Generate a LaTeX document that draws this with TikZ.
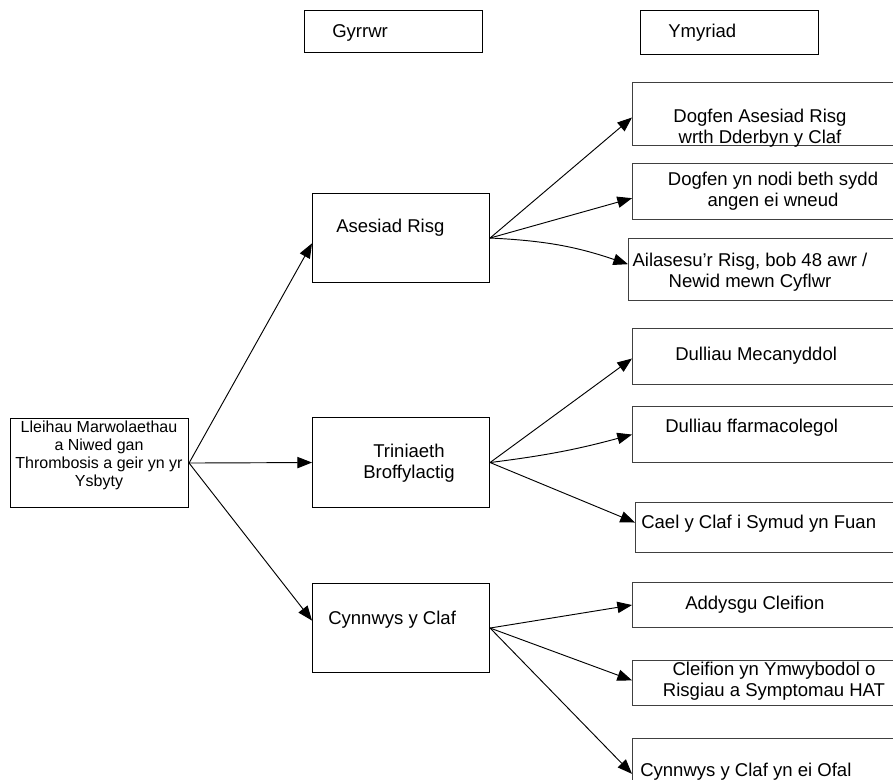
\documentclass[tikz,border=0pt]{standalone}
\usepackage{fontspec}
\setmainfont{Liberation Sans}
\usetikzlibrary{arrows.meta}
\newcommand\mybox[6][black]{\node[boxst,draw=#1,minimum width=#5*0.75pt,minimum height=#6*0.75pt] (#2) at (#3,#4) {};}
\begin{document}
\begin{tikzpicture}[x=0.75pt,y=-0.75pt,
  boxst/.style={anchor=north west,inner sep=0pt,line width=0.8pt},
  txt/.style={inner sep=0pt,font=\fontsize{13.9pt}{15.75pt}\selectfont},
  ltxt/.style={txt,anchor=west},
  ctxt/.style={txt,align=center},
  conn/.style={line width=0.7pt,-{Triangle[length=11pt,width=8.5pt]}}]
\useasboundingbox (0,0) rectangle (893,780);
\clip (0,0) rectangle (893,780);
% headers
\mybox{h1}{304}{10}{178}{42}
\mybox{h2}{640}{10}{178}{44}
\node[ltxt] (h1t) at (332,33) {Gyrrwr};
\node[ltxt] (h2t) at (668,33) {Ymyriad};
% left box
\mybox{L}{10}{418}{178}{89}
\node[txt,align=center,font=\fontsize{12pt}{13.5pt}\selectfont] (Lt) at (99,455)
  {Lleihau Marwolaethau\\a Niwed gan\\Thrombosis a geir yn yr\\Ysbyty};
% middle boxes
\mybox{A}{312}{193}{177}{89}
\mybox{T}{312}{417}{177}{90}
\mybox{C}{312}{583}{177}{89}
\node[ltxt] (At) at (336,228) {Asesiad Risg};
\node[ctxt] (Tt) at (409,463) {Triniaeth\\Broffylactig};
\node[ltxt] (Ct) at (328,620) {Cynnwys y Claf};
% right boxes
\mybox[black!75]{b1}{632}{82}{270}{63}
\mybox[black!75]{b2}{632}{163}{270}{56}
\mybox[black!75]{b3}{628}{238}{274}{62}
\mybox[black!75]{b4}{632}{328}{270}{56}
\mybox[black!75]{b5}{632}{406}{270}{56}
\mybox[black!75]{b6}{635}{502}{267}{50}
\mybox[black!75]{b7}{632}{582}{270}{45}
\mybox[black!75]{b8}{632}{660}{270}{45}
\mybox[black!75]{b9}{632}{738}{270}{60}
\node[ctxt] (b1t) at (760,128) {Dogfen Asesiad Risg\\wrth Dderbyn y Claf};
\node[ctxt] (b2t) at (773,191) {Dogfen yn nodi beth sydd\\angen ei wneud};
\node[ctxt] (b3t) at (750,272) {Ailasesu’r Risg, bob 48 awr /\\Newid mewn Cyflwr};
\node[ltxt] (b4t) at (675,356) {Dulliau Mecanyddol};
\node[ltxt] (b5t) at (665,428) {Dulliau ffarmacolegol};
\node[ltxt] (b6t) at (641,524) {Cael y Claf i Symud yn Fuan};
\node[ltxt] (b7t) at (685,605) {Addysgu Cleifion};
\node[ctxt] (b8t) at (774,681) {Cleifion yn Ymwybodol o\\Risgiau a Symptomau HAT};
\node[ltxt] (b9t) at (640,772) {Cynnwys y Claf yn ei Ofal};
% connectors
\draw[conn] (L.east) -- ([yshift=-4pt]A.west);
\draw[conn] (L.east) -- (T.west);
\draw[conn] (L.east) -- ([yshift=5.6pt]C.west);
\draw[conn] (A.east) -- ([yshift=-2.6pt]b1.west);
\draw[conn] (A.east) -- ([yshift=-5pt]b2.west);
\draw[conn] (A.east) to[bend left=8] ([yshift=4pt]b3.west);
\draw[conn] (T.east) -- ([yshift=-1.5pt]b4.west);
\draw[conn] (T.east) to[bend right=4] (b5.west);
\draw[conn] (T.east) -- ([yshift=3.75pt]b6.west);
\draw[conn] (C.east) -- (b7.west);
\draw[conn] (C.east) -- ([yshift=2pt]b8.west);
\draw[conn] (C.east) -- ([yshift=-4pt]b9.west);
\end{tikzpicture}
\end{document}
